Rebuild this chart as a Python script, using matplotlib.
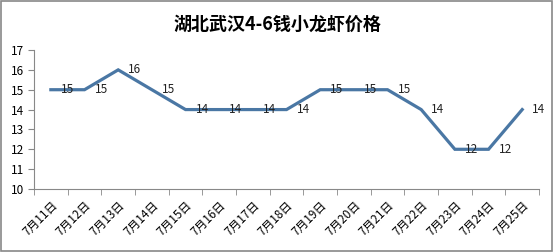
import matplotlib
matplotlib.use("Agg")
import matplotlib.pyplot as plt
from matplotlib.patches import Rectangle

plt.rcParams['font.family'] = ['Noto Sans CJK SC', 'DejaVu Sans']

dates = ["7月11日", "7月12日", "7月13日", "7月14日", "7月15日", "7月16日", "7月17日",
         "7月18日", "7月19日", "7月20日", "7月21日", "7月22日", "7月23日", "7月24日", "7月25日"]
prices = [15, 15, 16, 15, 14, 14, 14, 14, 15, 15, 15, 14, 12, 12, 14]
yticks = [10, 11, 12, 13, 14, 15, 16, 17]
title = "湖北武汉4-6钱小龙虾价格"

fig = plt.figure(figsize=(5.54, 2.52), dpi=100)
fig.patch.set_facecolor("white")
fig.add_artist(Rectangle((0.002, 0.004), 0.995, 0.992, transform=fig.transFigure,
                         fill=False, edgecolor="#888888", linewidth=1.2))

ax = fig.add_axes([0.0614, 0.25, 0.9116, 0.5516])
x = list(range(len(dates)))
ax.plot(x, prices, color="#4a77a4", linewidth=2.3, solid_joinstyle="miter")
for xi, v in zip(x, prices):
    ax.text(xi + 0.3, v, str(v), fontsize=8.5, va="center", ha="left", color="#222222")

ax.set_xlim(-0.5, len(dates) - 0.5)
ax.set_ylim(10, 17)
ax.set_yticks(yticks)
ax.set_yticklabels([str(t) for t in yticks], fontsize=8.5)
ax.set_xticks(x)
ax.set_xticklabels(dates, rotation=45, ha="right", rotation_mode="anchor", fontsize=8.5)
ax.set_xticks([i - 0.5 for i in range(len(dates) + 1)], minor=True)
ax.tick_params(axis="x", which="major", length=0, pad=7)
ax.tick_params(axis="x", which="minor", length=4, color="#888888", direction="out")
ax.tick_params(axis="y", length=4, color="#888888", pad=3)
for s in ["top", "right"]:
    ax.spines[s].set_visible(False)
for s in ["left", "bottom"]:
    ax.spines[s].set_color("#888888")
    ax.spines[s].set_linewidth(0.8)

fig.text(0.5, 0.905, title, ha="center", va="center", fontsize=13, fontweight="bold")

fig.savefig("out.png", dpi=100)
